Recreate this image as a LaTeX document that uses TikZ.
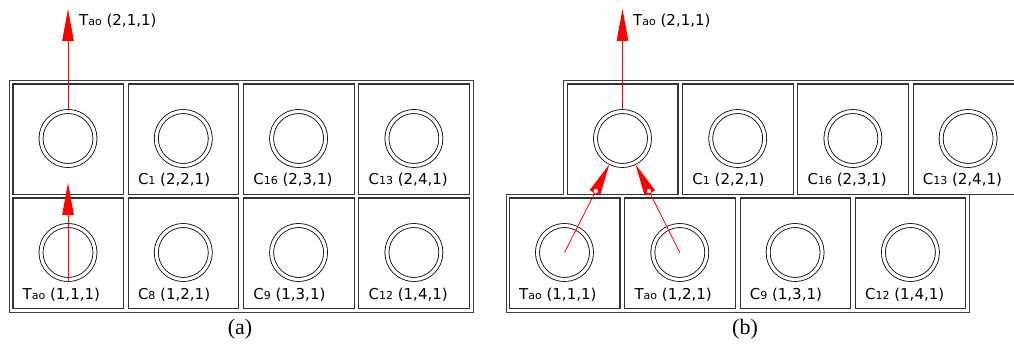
\documentclass[tikz,border=0pt]{standalone}
\usepackage{fontspec}
\newfontfamily\labfont{DejaVu Sans}
\newfontfamily\captfont{Liberation Serif}
\usetikzlibrary{arrows.meta,calc}

% cell label: main letter, small index, coordinates
\newcommand\cellid[3]{#1{\fontsize{11}{13}\selectfont #2} #3}

\tikzset{
  cellbox/.style={draw=black!80, line width=1.1pt, minimum width=110.5pt,
    minimum height=110.5pt, anchor=north west, inner sep=0pt, outer sep=0pt},
  frame/.style={draw=black!75, line width=1pt},
  pipe/.style={circle, draw=black, line width=0.8pt, double=white,
    double distance=3.2pt, minimum size=54pt, inner sep=0pt, outer sep=2pt},
  flow/.style={draw=red, line width=0.8pt,
    -{Triangle[length=32pt,width=11.5pt]}},
  tipring/.style={circle, draw=red, fill=white, line width=0.8pt,
    minimum size=5.5pt, inner sep=0pt},
  celltext/.style={anchor=base west, inner sep=0pt,
    font=\labfont\fontsize{15}{18}\selectfont},
  flowtext/.style={anchor=base west, inner sep=0pt,
    font=\labfont\fontsize{15}{18}\selectfont},
  caption/.style={anchor=base, inner sep=0pt,
    font=\captfont\fontsize{22}{26}\selectfont},
}

\begin{document}
\begin{tikzpicture}[x=1pt,y=-1pt]
\clip (0,0) rectangle (1014,347);
\fill[white] (0,0) rectangle (1014,347);

% ---------------- panel (a): aligned rows ----------------
\draw[frame] (9,81) rectangle (473,312);
\foreach \c/\x in {1/13,2/128.3,3/243.6,4/358.9}{
  \node[cellbox] (a2\c) at (\x,84) {};
  \node[cellbox] (a1\c) at (\x,198) {};
  \node[pipe] (pa2\c) at (\x+55,138.5) {};
  \node[pipe] (pa1\c) at (\x+55,252.5) {};
}
\node[celltext] (la22) at (137.8,185) {\cellid{C}{1}{(2,2,1)}};
\node[celltext] (la23) at (253.1,185) {\cellid{C}{16}{(2,3,1)}};
\node[celltext] (la24) at (368.4,185) {\cellid{C}{13}{(2,4,1)}};
\node[celltext] (la11) at (22.5,299) {\cellid{T}{ao}{(1,1,1)}};
\node[celltext] (la12) at (137.8,299) {\cellid{C}{8}{(1,2,1)}};
\node[celltext] (la13) at (253.1,299) {\cellid{C}{9}{(1,3,1)}};
\node[celltext] (la14) at (368.4,299) {\cellid{C}{12}{(1,4,1)}};

\coordinate (aout) at (68,9);
\coordinate (aup) at (68,183);
\draw[flow] (pa21.north) -- (aout);
\draw[flow] (pa11.south) -- (aup);
\node[flowtext] (laout) at (79,26) {\cellid{T}{ao}{(2,1,1)}};
\node[caption] (capa) at (240,334) {(a)};

% ---------------- panel (b): staggered rows ----------------
\draw[frame] (1030,81) -- (563,81) -- (563,194.3) -- (506,194.3)
  -- (506,312) -- (969,312) -- (969,194.3) -- (1030,194.3);
\foreach \c/\x in {1/567.5,2/682.7,3/797.9,4/913.1}{
  \node[cellbox] (b2\c) at (\x,84) {};
  \node[pipe] (pb2\c) at (\x+55,138.5) {};
}
\foreach \c/\x in {1/509.5,2/624.8,3/740.1,4/855.4}{
  \node[cellbox] (b1\c) at (\x,198) {};
  \node[pipe] (pb1\c) at (\x+55,252.5) {};
}
\node[celltext] (lb22) at (692.2,185) {\cellid{C}{1}{(2,2,1)}};
\node[celltext] (lb23) at (807.4,185) {\cellid{C}{16}{(2,3,1)}};
\node[celltext] (lb24) at (922.6,185) {\cellid{C}{13}{(2,4,1)}};
\node[celltext] (lb11) at (519,299) {\cellid{T}{ao}{(1,1,1)}};
\node[celltext] (lb12) at (634.3,299) {\cellid{T}{ao}{(1,2,1)}};
\node[celltext] (lb13) at (749.6,299) {\cellid{C}{9}{(1,3,1)}};
\node[celltext] (lb14) at (864.9,299) {\cellid{C}{12}{(1,4,1)}};

\coordinate (bout) at (622.5,9);
\draw[flow] (pb21.north) -- (bout);
\draw[flow] (pb11.center) -- (pb21);
\draw[flow] (pb12.center) -- (pb21);
% small rings at the base of the two inflow tips
\node[tipring] (rb11) at ($(pb21.center)!59pt!(pb11.center)$) {};
\node[tipring] (rb12) at ($(pb21.center)!59pt!(pb12.center)$) {};
\node[flowtext] (lbout) at (633,26) {\cellid{T}{ao}{(2,1,1)}};
\node[caption] (capb) at (745,334) {(b)};
\end{tikzpicture}
\end{document}
